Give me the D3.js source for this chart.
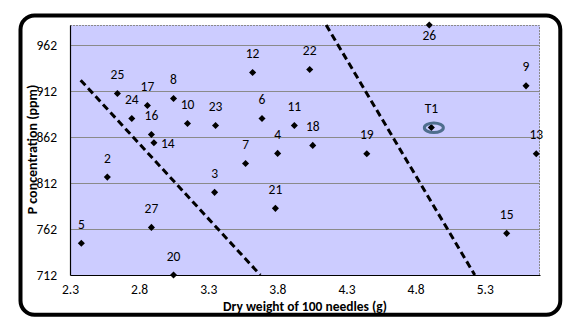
<!DOCTYPE html>
<html>
<head>
<meta charset="utf-8">
<script src="https://cdn.jsdelivr.net/npm/d3@7"></script>
<style>
  html, body { margin: 0; padding: 0; background: #fff; }
  svg { display: block; }
  text { font-family: Carlito, Lato, "Liberation Sans", sans-serif; }
</style>
</head>
<body>
<div id="chart"></div>
<script>
// ---- data ----
const pointNames = ["2","3","4","5","6","7","8","9","10","11","12","13","14","15","16","17","18","19","20","21","22","23","24","25","26","27","T1"];
const dryWeight = [2.570,3.346,3.802,2.382,3.689,3.570,3.049,5.599,3.150,3.923,3.621,5.673,2.907,5.459,2.889,2.860,4.056,4.447,3.049,3.786,4.034,3.353,2.747,2.643,4.899,2.889,4.914];
const pConc = [818.5,801.9,844.3,746.5,882.3,833.4,904.1,917.8,876.9,874.7,932.3,843.9,855.8,757.3,864.9,896.5,853,843.9,712,784.5,935.6,874.7,882.3,909.5,984,763.8,872.5];
const labelSide = {"14": "right", "26": "below"};
const line1X = [2.377, 3.677], line1Y = [924, 712];
const line2X = [4.153, 5.228], line2Y = [984, 712];
const xTicks = [2.3, 2.8, 3.3, 3.8, 4.3, 4.8, 5.3];
const yTicks = [712, 762, 812, 862, 912, 962];
const xTitle = "Dry weight of 100 needles (g)";
const yTitle = "P concentration (ppm)";
const highlighted = "T1";

// ---- layout ----
const W = 576, H = 325;
const plot = {l: 70, r: 540, t: 25, b: 275};
const svg = d3.select("#chart").append("svg").attr("width", W).attr("height", H);

// chart frame
svg.append("rect").attr("x", 20.5).attr("y", 15.5).attr("width", 539.8).attr("height", 299.2)
  .attr("rx", 14).attr("ry", 14).attr("fill", "#fff").attr("stroke", "#000").attr("stroke-width", 4);

const x = d3.scaleLinear().domain([2.3, 5.7]).range([plot.l, plot.r]);
const y = d3.scaleLinear().domain([712, 984]).range([plot.b, plot.t]);

svg.append("rect").attr("x", plot.l).attr("y", plot.t).attr("width", plot.r - plot.l).attr("height", plot.b - plot.t)
  .attr("fill", "#CCCCFF");

// gridlines
svg.append("g").selectAll("line").data(yTicks.slice(1)).join("line")
  .attr("x1", plot.l).attr("x2", plot.r)
  .attr("y1", d => Math.round(y(d)) + 0.5).attr("y2", d => Math.round(y(d)) + 0.5)
  .attr("stroke", "#8a8a8a").attr("stroke-width", 1);

// top / right plot borders (dotted)
svg.append("path").attr("d", `M${plot.l},${plot.t + 0.5}H${plot.r - 0.5}V${plot.b}`)
  .attr("fill", "none").attr("stroke", "#8a8a8a").attr("stroke-width", 1).attr("stroke-dasharray", "2,1");

// axes
const xAxis = d3.axisBottom(x).tickValues(xTicks).tickFormat(d3.format(".1f")).tickSize(0).tickPadding(9.5);
const gx = svg.append("g").attr("transform", `translate(0,${plot.b})`).call(xAxis);
gx.select(".domain").attr("stroke", "#000").attr("stroke-width", 1.2);
gx.selectAll("text").attr("font-size", 13.5).attr("fill", "#000");

const yAxis = d3.axisLeft(y).tickValues(yTicks).tickFormat(d3.format("d")).tickSize(0).tickPadding(13);
const gy = svg.append("g").attr("transform", `translate(${plot.l},0)`).call(yAxis);
gy.select(".domain").attr("stroke", "#000").attr("stroke-width", 1.2);
gy.selectAll("text").attr("font-size", 13.5).attr("fill", "#000");

// dashed boundary lines
const lineGen = d3.line().x(d => x(d[0])).y(d => y(d[1]));
[[line1X, line1Y], [line2X, line2Y]].forEach(([xs, ys]) => {
  svg.append("path").datum(xs.map((v, i) => [v, ys[i]])).attr("d", lineGen)
    .attr("fill", "none").attr("stroke", "#000").attr("stroke-width", 3)
    .attr("stroke-dasharray", "7,4");
});

// points
const pts = pointNames.map((n, i) => ({name: n, x: dryWeight[i], y: pConc[i]}));
svg.append("g").selectAll("path").data(pts).join("path")
  .attr("d", d3.symbol().type(d3.symbolSquare).size(25))
  .attr("transform", d => `translate(${x(d.x)},${y(d.y)}) rotate(45)`)
  .attr("fill", "#000");

// labels
svg.append("g").selectAll("text").data(pts).join("text")
  .attr("x", d => labelSide[d.name] === "right" ? x(d.x) + 7 : x(d.x))
  .attr("y", d => labelSide[d.name] === "right" ? y(d.y) + 5.5 : labelSide[d.name] === "below" ? y(d.y) + 15 : y(d.y) - 14.5)
  .attr("text-anchor", d => labelSide[d.name] === "right" ? "start" : "middle")
  .attr("font-size", 13.5).attr("fill", "#000")
  .text(d => d.name);

// highlight ellipse
const hp = pts.find(p => p.name === highlighted);
svg.append("ellipse").attr("cx", x(hp.x) + 2.5).attr("cy", y(hp.y) + 0.3).attr("rx", 9.5).attr("ry", 4.8)
  .attr("fill", "none").attr("stroke", "#4f6e8e").attr("stroke-width", 3);

// axis titles
svg.append("text").attr("x", 305).attr("y", 310.5).attr("text-anchor", "middle")
  .attr("font-size", 13.5).attr("font-weight", "bold").text(xTitle);
svg.append("text").attr("transform", "translate(36.5,149.5) rotate(-90)").attr("text-anchor", "middle")
  .attr("font-size", 14).attr("font-weight", "bold").text(yTitle);
</script>
</body>
</html>
